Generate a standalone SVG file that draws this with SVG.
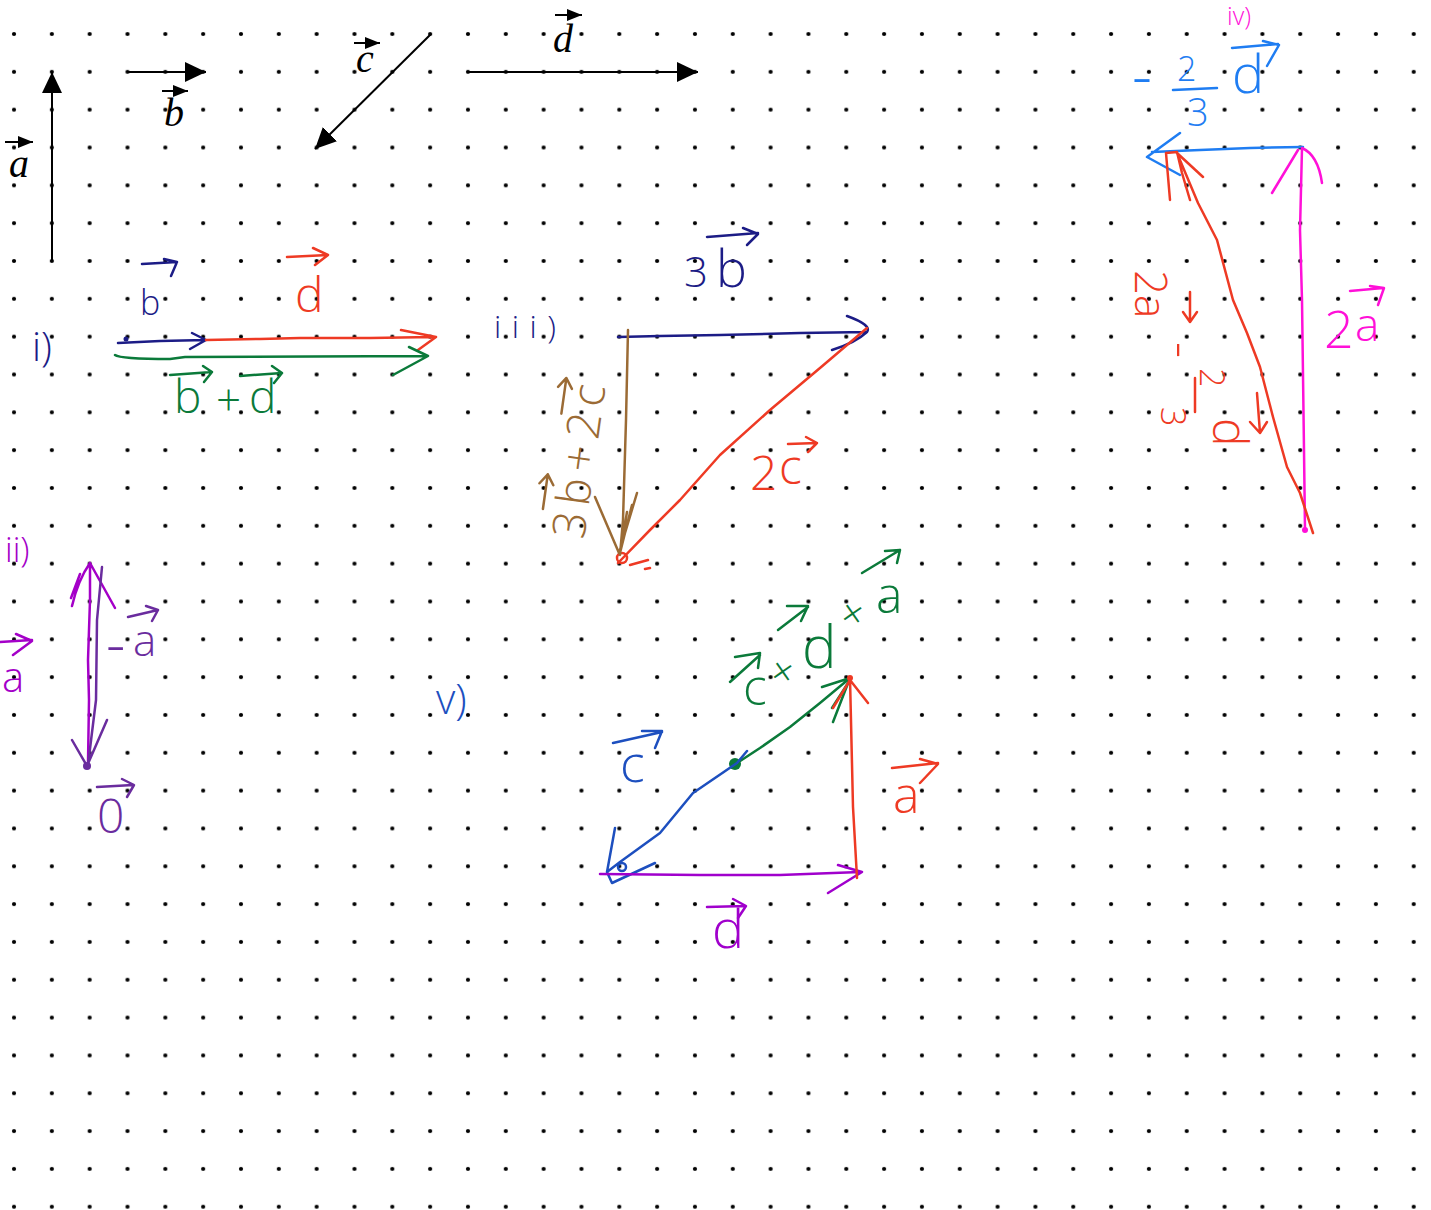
<svg xmlns="http://www.w3.org/2000/svg" width="1431" height="1210" viewBox="0 0 1431 1210">
<defs>
<pattern id="dots" x="-4.9" y="15.1" width="37.83" height="37.83" patternUnits="userSpaceOnUse"><circle cx="18.915" cy="18.915" r="2.1" fill="#000"/></pattern>
<marker id="bh" viewBox="0 0 21 20" refX="21" refY="10" markerWidth="21" markerHeight="20" markerUnits="userSpaceOnUse" orient="auto"><path d="M0,0 L21,10 L0,20 Z" fill="#000"/></marker>
<marker id="sh" viewBox="0 0 15 12" refX="15" refY="6" markerWidth="15" markerHeight="12" markerUnits="userSpaceOnUse" orient="auto"><path d="M0,0 L15,6 L0,12 Z" fill="#000"/></marker>
<style>
.bl{stroke:#000;stroke-width:2;fill:none}
.bt{font-family:"Liberation Serif",serif;font-style:italic;font-size:40px;fill:#000}
.pen{fill:none;stroke-width:2.5;stroke-linecap:round;stroke-linejoin:round}
.hw{font-family:"Open Sans","DejaVu Sans",sans-serif;font-weight:300}
.navy{stroke:#1c1c86}.tnavy{fill:#1c1c86}
.red{stroke:#ee3a24}.tred{fill:#ee3a24}
.grn{stroke:#0b7a3a}.tgrn{fill:#0b7a3a}
.mag{stroke:#a400c8}.tmag{fill:#a400c8}
.pur{stroke:#6a2c9e}.tpur{fill:#6a2c9e}
.brn{stroke:#9b6b35}.tbrn{fill:#9b6b35}
.pink{stroke:#ff10d8}.tpink{fill:#ff10d8}
.sky{stroke:#1f7df2}.tsky{fill:#1f7df2}
.blu{stroke:#1d4fbf}.tblu{fill:#1d4fbf}
.vio{stroke:#a000cc}.tvio{fill:#a000cc}
</style>
</defs>
<rect width="1431" height="1210" fill="#fff"/>
<rect width="1431" height="1210" fill="url(#dots)"/>

<g id="connectors">
  <!-- black given vectors -->
  <line class="bl" x1="52" y1="261" x2="52" y2="72" marker-end="url(#bh)"/>
  <line class="bl" x1="128" y1="72" x2="206" y2="72" marker-end="url(#bh)"/>
  <line class="bl" x1="431" y1="34" x2="315" y2="149" marker-end="url(#bh)"/>
  <line class="bl" x1="467" y1="72" x2="698" y2="72" marker-end="url(#bh)"/>

  <!-- i) -->
  <path class="pen navy" d="M118,343 L160,341 L206,340 M192,333 L206,340 L190,349"/>
  <circle cx="126" cy="339" r="2.5" fill="#1c1c86"/>
  <path class="pen red" d="M206,340 L260,339 L300,338 L370,338 L433,337 M401,330 L436,337 L418,350"/>
  <path class="pen grn" d="M115,355 Q120,359 170,359 L185,357 L427,356 M409,347 L428,356 L393,375"/>

  <!-- ii) -->
  <path class="pen mag" d="M88,763 L89,700 L88,660 L90,600 L90,563 M72,606 Q78,580 90,563 L115,608 M71,598 L80,574"/>
  <path class="pen pur" d="M102,567 L97,620 L96,700 L88,765 M72,740 L87,766 L107,720"/>
  <circle cx="87" cy="766" r="4" fill="#6a2c9e"/>

  <!-- iii) -->
  <path class="pen navy" d="M618,337 L660,336 L720,335 L800,333 L867,332 M847,316 Q872,325 867,332 Q855,343 832,350"/>
  <path class="pen red" d="M867,328 L820,368 L770,410 L720,455 L680,500 L650,530 L618,563 M630,565 L648,560 M645,569 L650,568"/>
  <circle cx="622" cy="558" r="5" fill="none" stroke="#ee3a24" stroke-width="2.5"/>
  <path class="pen brn" d="M628,330 L626,420 L623,520 L620,555 M595,497 L619,553 L637,493 M627,512 L620,553 L632,505"/>

  <!-- iv) -->
  <path class="pen sky" d="M1303,147 L1250,148 L1200,150 L1152,152 M1180,133 L1147,157 L1180,175"/>
  <path class="pen pink" d="M1305,530 L1304,450 L1302,300 L1300,230 L1302,148 M1272,193 L1298,150 M1302,148 Q1318,155 1322,183"/>
  <circle cx="1305" cy="530" r="3" fill="#ff10d8"/>
  <path class="pen red" d="M1313,533 L1300,493 L1287,467 L1273,417 L1260,367 L1247,333 L1233,300 L1217,240 L1198,203 L1177,153 M1170,200 L1166,153 L1177,152 L1182,173 L1190,200 M1177,153 L1203,177"/>

  <!-- v) -->
  <path class="pen grn" d="M737,763 L760,748 L790,727 L820,703 L850,678 M822,687 L850,678 L833,722 M832,708 L850,680"/>
  <circle cx="735" cy="764" r="6" fill="#0b7a3a"/>
  <path class="pen blu" d="M747,751 L737,763 L693,793 L660,833 L620,862 L607,872 M615,828 L607,872 L612,883 L655,863"/>
  <circle cx="622" cy="867" r="4" fill="none" stroke="#1d4fbf" stroke-width="2.5"/>
  <path class="pen vio" d="M600,874 L700,875 L780,875 L860,872 M838,865 L862,872 L828,893"/>
  <path class="pen red" d="M857,878 L853,807 L850,678 M833,708 L850,680 L868,703"/>
  <circle cx="850" cy="678" r="3" fill="#ee3a24"/>
</g>

<!-- black labels -->
<g id="label-a"><text class="bt" x="9" y="177">a</text><line class="bl" x1="5" y1="142" x2="33" y2="142" marker-end="url(#sh)"/></g>
<g id="label-b"><text class="bt" x="164" y="126">b</text><line class="bl" x1="162" y1="91" x2="188" y2="91" marker-end="url(#sh)"/></g>
<g id="label-c"><text class="bt" x="356" y="72">c</text><line class="bl" x1="354" y1="43" x2="380" y2="43" marker-end="url(#sh)"/></g>
<g id="label-d"><text class="bt" x="553" y="52">d</text><line class="bl" x1="555" y1="15" x2="582" y2="15" marker-end="url(#sh)"/></g>

<!-- section i -->
<g id="sec-i">
  <text class="hw tnavy" x="32" y="361" font-size="40">i)</text>
  <text class="hw tnavy" x="140" y="315" font-size="34">b</text>
  <path class="pen navy" d="M142,264 L177,262 M164,259 L177,262 L171,276"/>
  <text class="hw tred" x="295" y="312" font-size="48">d</text>
  <path class="pen red" d="M287,257 L328,255 M313,248 L328,255 L315,265"/>
  <text class="hw tgrn" x="174" y="413" font-size="46">b</text>
  <path class="pen grn" d="M170,375 L212,372 M203,366 L212,372 L204,382"/>
  <text class="hw tgrn" x="216" y="416" font-size="44">+</text>
  <text class="hw tgrn" x="249" y="413" font-size="46">d</text>
  <path class="pen grn" d="M240,376 L282,373 M272,366 L282,373 L274,383"/>
</g>

<!-- section ii -->
<g id="sec-ii">
  <text class="hw tmag" x="5" y="562" font-size="34">ii)</text>
  <text class="hw tmag" x="2" y="692" font-size="42">a</text>
  <path class="pen mag" d="M0,642 L32,640 M16,634 L32,641 L13,655"/>
  <text class="hw tpur" x="106" y="665" font-size="60">-</text>
  <text class="hw tpur" x="133" y="656" font-size="44">a</text>
  <path class="pen pur" d="M128,617 L158,610 M146,606 L158,610 L152,621"/>
  <text class="hw tpur" x="97" y="833" font-size="48">0</text>
  <path class="pen pur" d="M97,787 L133,785 M122,779 L134,785 L127,797"/>
</g>

<!-- section iii -->
<g id="sec-iii">
  <text class="hw tnavy" x="494" y="338" font-size="32" textLength="62" lengthAdjust="spacing">iii)</text>
  <text class="hw tnavy" x="684" y="287" font-size="42">3</text>
  <text class="hw tnavy" x="716" y="287" font-size="52">b</text>
  <path class="pen navy" d="M707,237 L758,233 M743,228 L758,234 L747,245"/>
  <text class="hw tred" x="750" y="490" font-size="48">2</text>
  <text class="hw tred" x="779" y="484" font-size="48">c</text>
  <path class="pen red" d="M788,444 L817,443 M806,437 L817,443 L808,452"/>
  <g transform="translate(584,540) rotate(-82)">
    <text class="hw tbrn" x="0" y="0" font-size="46" textLength="155" lengthAdjust="spacing">3b+2c</text>
    <path class="pen brn" d="M25,-45 L60,-45 M50,-52 L60,-45 L50,-38"/>
    <path class="pen brn" d="M122,-40 L158,-40 M148,-47 L158,-40 L148,-33"/>
  </g>
</g>

<!-- section iv -->
<g id="sec-iv">
  <text class="hw tpink" x="1227" y="25" font-size="25">iv)</text>
  <text class="hw tsky" x="1132" y="98" font-size="62">-</text>
  <text class="hw tsky" x="1177" y="81" font-size="34">2</text>
  <path class="pen sky" d="M1173,90 L1217,88"/>
  <text class="hw tsky" x="1187" y="126" font-size="38">3</text>
  <text class="hw tsky" x="1232" y="93" font-size="54">d</text>
  <path class="pen sky" d="M1232,48 L1278,44 M1263,41 L1279,45 L1267,66"/>
  <text class="hw tpink" x="1324" y="348" font-size="52">2</text>
  <text class="hw tpink" x="1355" y="341" font-size="46">a</text>
  <path class="pen pink" d="M1350,291 L1383,288 M1370,286 L1384,288 L1378,305"/>
  <g transform="translate(1135,270) rotate(90)">
    <text class="hw tred" x="0" y="0" font-size="44">2a</text>
    <path class="pen red" d="M22,-55 L52,-55 M42,-62 L52,-55 L42,-48"/>
    <text class="hw tred" x="72" y="-30" font-size="50">-</text>
    <text class="hw tred" x="98" y="-65" font-size="34">2</text>
    <path class="pen red" d="M108,-60 L142,-60"/>
    <text class="hw tred" x="137" y="-26" font-size="34">3</text>
    <text class="hw tred" x="148" y="-78" font-size="48">d</text>
    <path class="pen red" d="M123,-122 L163,-125 M152,-132 L163,-125 L152,-115"/>
  </g>
</g>

<!-- section v -->
<g id="sec-v">
  <text class="hw tblu" x="436" y="714" font-size="42">v)</text>
  <text class="hw tblu" x="620" y="782" font-size="52">c</text>
  <path class="pen blu" d="M613,743 L662,732 M642,731 L662,731 L655,748"/>
  <text class="hw tred" x="893" y="813" font-size="50">a</text>
  <path class="pen red" d="M892,768 L938,763 M920,759 L938,764 L920,783"/>
  <text class="hw tvio" x="712" y="948" font-size="54">d</text>
  <path class="pen vio" d="M707,907 L745,906 M733,899 L746,906 L738,918"/>
  <text class="hw tgrn" x="743" y="705" font-size="50">c</text>
  <path class="pen grn" d="M730,682 L760,655 M735,657 L760,653 L758,668"/>
  <text class="hw tgrn" x="783" y="687" font-size="44" text-anchor="middle" transform="rotate(-35,783,672)">+</text>
  <text class="hw tgrn" x="802" y="668" font-size="58">d</text>
  <path class="pen grn" d="M778,630 L808,607 M787,606 L808,606 L801,621"/>
  <text class="hw tgrn" x="853" y="629" font-size="44" text-anchor="middle" transform="rotate(-35,853,614)">+</text>
  <text class="hw tgrn" x="876" y="613" font-size="50">a</text>
  <path class="pen grn" d="M862,573 L900,550 M885,551 L900,550 L897,563"/>
</g>
</svg>
